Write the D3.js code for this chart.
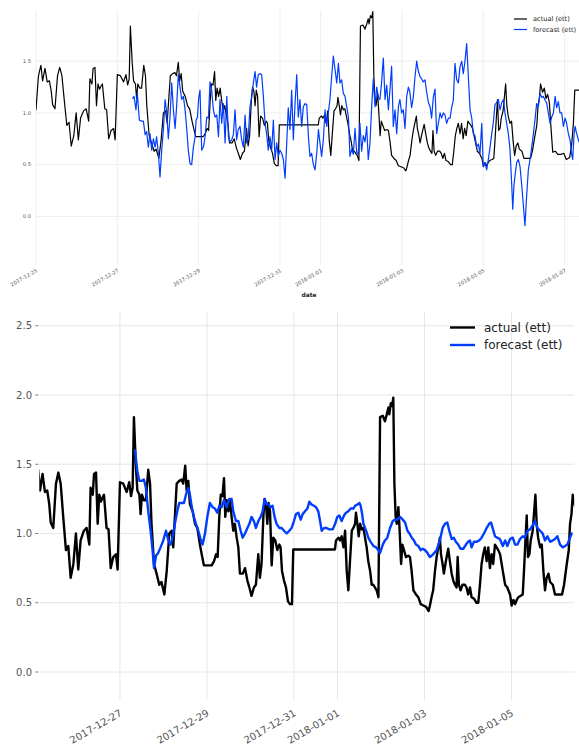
<!DOCTYPE html>
<html>
<head>
<meta charset="utf-8">
<script src="https://cdn.jsdelivr.net/npm/d3@7"></script>
<style>
  html, body { margin: 0; padding: 0; background: #fff; }
  svg { display: block; font-family: "DejaVu Sans", sans-serif; }
</style>
</head>
<body>
<svg id="chart" width="579" height="749"></svg>
<script>
// ---------- DATA (hours after 2017-12-25 00:00) ----------
const actualHours = [0,1.4,2.0,2.9,3.9,5.3,6.6,7.9,9.0,9.8,11.2,12.7,14.0,15.3,16.7,18.2,19.5,20.8,22.3,23.7,25.0,26.3,28.1,29.6,31.1,31.8,33.0,33.7,34.8,35.7,36.6,37.5,38.4,39.2,40.6,41.7,42.9,44.3,45.8,46.7,48.0,49.8,51.7,53.1,
54.1,55.0,55.7,56.8,57.6,58.7,59.4,60.1,61.2,62.3,63.6,64.6,65.4,66.8,68.2,69.7,70.9,72.5,73.8,75.2,76.5,77.4,78.3,79.3,80.7,82.0,82.9,84.0,84.8,85.7,86.6,88.1,89.4,90.7,92.1,93.1,94.3,95.4,96.7,98.6,99.9,101.0,101.9,102.8,103.6,104.5,105.4,106.1,106.9,107.8,
108.7,109.6,110.5,111.4,112.4,113.3,114.2,115.7,117.0,118.3,119.4,120.6,121.9,123.0,124.3,125.2,126.1,127.1,127.8,128.6,129.3,130.0,130.8,131.7,132.6,133.7,134.8,135.9,136.6,137.4,138.5,139.6,140.7,141.8,142.9,143.6,166.6,167.2,
168.5,169.4,170.3,171.3,172.2,173.1,174.0,174.9,175.9,176.8,177.7,178.2,179.0,179.7,180.5,181.4,182.3,183.2,184.1,185.0,186.0,186.9,187.8,188.7,189.6,190.6,191.5,193.0,194.2,195.2,196.1,196.6,197.4,198.1,198.8,199.4,200.1,200.7,201.6,202.3,203.1,203.8,204.7,205.8,207.1,208.0,208.9,209.9,211.3,212.6,213.9,215.4,216.9,218.3,
219.0,219.9,220.8,221.8,222.7,223.6,224.5,225.1,226.0,226.7,227.8,229.1,230.0,231.0,231.9,232.8,233.7,234.3,235.0,235.9,237.0,238.3,239.2,240.1,241.1,242.0,243.3,244.7,245.7,246.6,247.5,248.4,249.3,250.3,251.2,252.1,253.0,253.9,254.9,255.8,256.7,
257.7,259.2,260.5,261.7,263.2,264.1,265.1,266.0,266.9,267.8,269.1,270.2,270.9,271.7,272.4,273.1,273.9,274.6,275.7,276.5,277.2,277.9,278.7,279.8,280.7,281.6,282.5,283.4,284.4,285.3,286.8,288.0,289.3,290.8,291.9,293.0,294.5,295.6,296.3,297.1,297.8,
299.0,300.0,301.0,302.0,303.0,304.0,305.0,306.5,308.0,310.0,311.5,313.0,315.0,316.2,317.2,318.0,320.5];
const actualValues = [1.03,1.35,1.40,1.46,1.31,1.43,1.30,1.31,1.21,1.08,1.04,1.36,1.44,1.36,1.12,0.88,0.91,0.68,0.78,1.00,0.74,0.95,1.02,1.04,0.92,1.33,1.28,1.43,1.44,1.07,1.28,1.23,1.26,1.28,1.04,1.03,0.75,0.83,0.85,0.74,1.37,1.36,1.30,1.37,
1.27,1.33,1.84,1.48,1.31,1.28,1.14,1.28,1.24,1.24,1.46,1.36,1.07,0.78,0.71,0.63,0.65,0.56,0.73,1.00,1.02,0.90,1.12,1.36,1.38,1.39,1.36,1.49,1.31,1.38,1.21,1.16,1.07,1.04,0.92,0.85,0.77,0.77,0.77,0.77,0.80,0.85,0.83,1.12,1.28,1.27,1.40,1.12,1.24,1.16,
1.24,1.12,1.02,1.07,0.97,0.90,0.71,0.71,0.75,0.66,0.61,0.55,0.61,0.63,0.85,0.68,0.78,1.12,1.25,1.21,1.07,1.22,1.16,0.77,0.97,0.95,0.88,0.92,0.90,0.73,0.66,0.61,0.51,0.49,0.49,0.885,0.885,0.95,
0.97,0.95,0.98,0.90,1.02,0.73,0.59,0.80,1.02,1.04,1.07,1.15,1.07,0.98,1.07,1.03,1.04,0.97,0.90,0.80,0.73,0.63,0.63,0.61,0.59,0.54,1.84,1.85,1.81,1.86,1.91,1.86,1.94,1.92,1.98,1.36,1.12,1.07,1.19,1.02,0.78,0.92,0.88,0.83,0.84,0.83,0.73,0.59,0.56,0.54,0.49,0.48,0.47,0.44,
0.48,0.54,0.59,0.73,0.83,0.90,0.97,0.85,0.78,0.71,0.80,0.89,0.80,0.71,0.66,0.63,0.61,0.83,0.63,0.59,0.63,0.63,0.61,0.56,0.61,0.54,0.53,0.50,0.50,0.63,0.78,0.85,0.90,0.80,0.90,0.75,0.85,0.78,0.92,0.90,0.88,
0.85,0.73,0.63,0.61,0.56,0.48,0.52,0.49,0.52,0.54,0.55,0.56,0.73,0.95,1.13,0.83,0.85,0.95,1.02,1.16,1.28,1.07,0.97,0.90,0.92,0.73,0.59,0.68,0.71,0.65,0.63,0.56,0.56,0.56,0.56,0.63,0.78,0.88,1.07,1.14,1.28,
1.20,1.24,1.14,1.18,1.10,0.85,0.62,0.63,0.60,0.60,0.61,0.55,0.57,0.70,0.90,1.22,1.22];

const forecastTopHours = [57.1,57.9,59.0,59.8,61.0,62.4,63.4,64.4,65.3,66.3,67.3,68.3,69.3,70.3,71.2,72.2,73.2,74.2,75.2,76.2,77.2,78.1,79.1,80.1,81.1,82.1,83.1,84.0,85.0,86.0,87.0,88.0,89.0,89.9,90.9,91.9,92.9,93.9,94.5,95.3,96.0,96.8,97.8,98.8,99.8,100.8,101.8,102.7,103.7,104.7,105.7,106.7,107.7,108.6,109.6,110.6,111.6,112.6,113.6,114.5,
115.5,116.5,117.5,118.4,119.4,120.4,121.4,122.4,123.4,124.3,125.3,126.3,127.3,128.3,129.3,130.2,131.2,132.2,133.2,134.2,135.2,136.1,137.1,138.1,139.1,140.1,141.1,142.1,143.0,144.0,145.0,146.0,147.0,148.0,148.9,149.9,150.9,151.9,152.9,153.9,154.8,155.8,156.8,157.8,158.8,159.8,160.8,161.7,162.7,163.7,164.7,165.7,166.7,167.6,168.6,169.6,170.6,171.6,172.6,173.5,174.5,175.5,176.5,177.5,178.5,179.4,180.4,181.4,182.4,183.4,184.4,
185.3,186.3,187.3,188.3,189.3,190.2,191.2,192.2,193.2,194.2,195.2,196.1,197.1,198.1,199.1,200.1,201.1,202.1,203.0,204.0,205.0,206.0,207.0,208.0,208.9,209.9,210.9,211.9,212.9,213.9,214.8,215.8,216.8,217.8,218.8,219.8,220.7,221.7,222.7,223.7,224.7,225.7,226.7,227.6,228.6,229.6,230.6,231.6,232.6,233.5,234.5,235.5,236.5,237.5,238.5,239.4,240.4,241.4,242.4,243.4,244.4,245.3,246.3,247.3,248.3,249.3,250.3,251.3,252.2,253.2,254.2,255.2,256.2,257.2,258.1,259.1,260.1,261.1,262.1,263.1,264.0,265.0,266.0,267.0,268.0,269.0,269.9,270.9,271.9,272.9,273.9,274.9,275.9,276.8,277.8,278.8,279.8,280.8,281.4,282.1,282.7,283.7,284.7,285.7,286.7,287.7,288.6,289.6,290.6,291.6,292.6,293.6,294.5,295.5,296.5,297.5,298.5,299.5,300.5,301.4,302.4,303.4,304.4,305.4,306.4,307.3,308.3,309.3,310.3,311.3,312.3,313.2,314.2,315.2,316.2,316.8,317.6,318.2,319.1,320.5];
const forecastTopValues = [1.14,1.16,1.03,1.19,0.93,0.92,0.92,0.79,0.82,0.67,0.80,0.64,0.75,0.67,0.77,0.61,0.38,0.64,0.84,1.13,1.00,0.75,0.96,1.29,1.03,0.85,1.09,1.37,1.25,1.13,1.16,1.03,0.84,0.64,0.51,0.50,0.67,0.77,0.93,0.96,1.14,1.22,0.64,0.67,0.77,0.96,0.95,1.30,1.22,1.03,0.96,0.98,0.77,1.13,0.90,1.09,0.71,1.16,0.77,0.72,
0.74,0.79,1.03,0.74,0.84,0.87,0.74,0.67,0.98,0.71,0.77,1.06,1.16,1.29,1.40,1.25,1.37,1.38,1.37,1.16,0.90,0.80,0.64,0.77,0.64,0.93,0.55,0.71,0.58,0.64,0.61,0.55,0.37,0.71,1.05,0.84,1.22,0.74,1.09,1.37,0.96,1.13,0.87,1.06,1.09,1.08,0.77,0.58,0.61,0.50,0.45,0.61,0.84,0.71,0.58,0.74,1.03,0.87,1.01,1.13,1.35,1.55,1.42,1.29,1.48,1.29,1.32,1.19,1.16,1.06,0.96,
0.58,0.65,0.60,0.85,0.62,0.60,0.90,0.63,0.78,0.72,0.87,0.55,0.70,1.05,1.33,1.06,1.25,1.15,1.13,1.30,1.53,1.13,1.27,1.03,1.22,1.45,0.87,1.03,0.80,1.06,1.13,1.00,1.03,0.85,1.16,1.25,1.20,1.05,1.15,1.35,1.50,1.40,1.35,1.33,1.30,1.32,1.20,1.10,1.06,0.95,1.15,1.23,0.80,0.90,1.00,0.95,1.00,0.98,0.90,0.95,0.95,1.05,1.12,1.48,1.32,1.29,1.45,1.50,1.38,1.50,1.67,1.35,1.03,0.95,0.80,0.78,0.67,0.70,0.61,0.90,0.48,0.52,0.45,0.55,0.67,0.80,0.90,1.08,1.10,1.13,1.03,1.10,1.13,1.00,0.90,0.80,0.64,0.30,0.07,0.30,0.39,0.52,0.55,0.48,0.30,0.10,-0.09,0.20,0.45,0.55,0.67,0.80,0.93,1.09,1.06,1.19,1.15,1.16,1.12,1.10,1.00,0.90,0.96,1.00,1.16,1.05,1.11,1.00,1.00,0.87,0.95,0.90,0.80,0.74,0.60,0.55,0.80,0.87,0.80,0.72];

const forecastBottomHours = [56.3,57.6,58.7,60.0,61.2,62.3,63.6,64.9,66.0,66.8,67.9,69.1,70.4,71.9,73.4,74.7,75.9,77.0,78.3,79.6,80.7,82.0,83.3,84.4,85.7,86.6,87.5,88.8,89.9,91.2,92.5,93.6,94.9,96.2,97.6,99.1,100.4,101.7,102.8,104.1,105.4,106.9,108.3,
109.6,110.5,112.0,113.3,114.6,115.7,117.0,118.3,119.4,120.6,121.9,123.0,124.3,125.6,126.7,127.8,128.9,130.0,131.1,132.2,133.3,134.4,135.9,137.2,138.5,140.0,141.4,142.7,144.0,145.1,146.4,147.7,148.8,150.1,151.4,152.5,153.7,155.0,156.2,157.4,158.4,159.3,160.6,162.0,163.5,
165.4,166.7,167.9,169.0,170.3,171.6,172.7,174.0,175.3,176.8,177.7,179.0,180.1,180.8,181.6,182.3,183.8,185.0,186.3,187.8,189.3,190.6,191.5,193.0,194.2,195.5,197.0,198.5,199.8,201.0,202.5,204.0,205.3,206.6,207.7,209.0,210.2,211.3,212.6,213.9,215.0,216.3,217.6,
219.0,220.8,222.7,224.5,226.0,227.3,228.6,229.7,231.0,232.2,233.3,234.6,235.9,237.4,238.9,240.1,241.1,242.0,243.3,244.7,246.2,247.5,248.8,250.3,251.7,252.7,253.6,254.9,256.1,257.6,
259.2,260.5,261.7,263.2,264.7,266.0,267.3,268.7,270.2,271.5,272.8,274.3,275.7,277.0,278.3,279.8,281.2,282.5,283.8,285.3,286.8,288.0,289.3,290.8,292.3,293.6,294.8,296.0,297.2];
const forecastBottomValues = [1.60,1.45,1.38,1.38,1.39,1.33,1.16,1.02,0.88,0.75,0.84,0.86,0.90,0.95,1.02,0.95,0.92,0.97,1.07,1.16,1.22,1.22,1.22,1.28,1.33,1.28,1.20,1.12,1.07,1.02,0.96,0.92,1.00,1.12,1.22,1.19,1.18,1.15,1.20,1.19,1.24,1.19,1.25,
1.25,1.16,1.09,1.09,1.02,0.97,1.00,1.04,1.07,1.12,1.09,1.04,1.09,1.12,1.16,1.25,1.21,1.21,1.19,1.20,1.12,1.07,1.04,1.04,1.02,1.00,1.02,1.04,1.09,1.14,1.15,1.10,1.14,1.16,1.18,1.23,1.21,1.20,1.19,1.16,1.09,1.02,1.04,1.04,1.03,
1.03,1.07,1.12,1.13,1.09,1.13,1.15,1.16,1.18,1.18,1.20,1.21,1.22,1.20,1.14,1.07,1.02,0.97,0.94,0.91,0.90,0.88,0.86,0.92,0.95,0.97,1.04,1.09,1.10,1.10,1.12,1.10,1.08,1.02,1.00,0.97,0.95,0.92,0.91,0.88,0.89,0.88,0.86,
0.83,0.85,0.88,0.95,1.04,1.07,1.08,1.02,0.96,0.97,0.94,0.92,0.89,0.89,0.92,0.94,0.95,0.90,0.94,0.94,0.95,0.97,1.00,1.04,1.07,1.08,1.04,0.98,0.97,0.96,
0.91,0.95,0.91,0.96,0.97,0.92,0.92,0.96,0.98,0.97,1.02,1.03,1.06,1.09,1.04,1.02,1.00,0.95,0.98,0.94,0.95,0.96,0.98,0.92,0.90,0.91,0.92,0.96,1.00];

const topTickLabels = ["2017-12-25","2017-12-27","2017-12-29","2017-12-31","2018-01-01","2018-01-03","2018-01-05","2018-01-07"];
const bottomTickLabels = ["2017-12-27","2017-12-29","2017-12-31","2018-01-01","2018-01-03","2018-01-05"];
const topYTicks = [0, 0.5, 1.0, 1.5];
const bottomYTicks = [0, 0.5, 1.0, 1.5, 2.0, 2.5];
const seriesNames = ["actual (ett)", "forecast (ett)"];
const seriesColors = ["#000000", "#003DFD"];

// ---------- helpers ----------
const BASE = Date.UTC(2017, 11, 25);
const toDate = h => new Date(BASE + h * 3600000);
const parseDay = s => { const [y, m, d] = s.split("-").map(Number); return new Date(Date.UTC(y, m - 1, d)); };
const zip = (hs, vs) => hs.map((h, i) => ({ t: toDate(h), v: vs[i] }));

const actual = zip(actualHours, actualValues);
const fcTop = zip(forecastTopHours, forecastTopValues);
const fcBot = zip(forecastBottomHours, forecastBottomValues);

const svg = d3.select("#chart");
const GRID = "#e6e6e6";
const TICKC = "#555";

function panel(cfg) {
  const g = svg.append("g");
  const x = d3.scaleUtc().domain([toDate(cfg.xDomain[0]), toDate(cfg.xDomain[1])]).range([cfg.left, cfg.right]);
  const y = d3.scaleLinear().domain(cfg.yDomain).range([cfg.bottom, cfg.top]);
  const clipId = "clip" + cfg.id;
  svg.append("clipPath").attr("id", clipId).append("rect")
    .attr("x", cfg.left).attr("y", cfg.top).attr("width", cfg.right - cfg.left).attr("height", cfg.bottom - cfg.top);

  const xt = cfg.xTicks.map(parseDay);
  // grid
  g.append("g").selectAll("line").data(xt).join("line")
    .attr("x1", d => x(d)).attr("x2", d => x(d)).attr("y1", cfg.top).attr("y2", cfg.bottom)
    .attr("stroke", GRID).attr("stroke-width", cfg.gridW);
  g.append("g").selectAll("line").data(cfg.yTicks).join("line")
    .attr("x1", cfg.left).attr("x2", cfg.right).attr("y1", d => y(d)).attr("y2", d => y(d))
    .attr("stroke", GRID).attr("stroke-width", cfg.gridW);

  // y tick labels
  const yl = g.append("g");
  yl.selectAll("text").data(cfg.yTicks).join("text")
    .attr("x", cfg.yLabelX).attr("y", d => y(d)).attr("dy", "0.35em")
    .attr("text-anchor", "end").attr("font-size", cfg.tickFont).attr("fill", TICKC)
    .text(d => d3.format(".1f")(d));
  if (cfg.yTickMark) {
    yl.selectAll("line").data(cfg.yTicks).join("line")
      .attr("x1", cfg.left - 4).attr("x2", cfg.left - 1).attr("y1", d => y(d)).attr("y2", d => y(d))
      .attr("stroke", TICKC).attr("stroke-width", 0.8);
  }
  // x tick labels
  g.append("g").selectAll("text").data(xt).join("text")
    .attr("transform", d => `translate(${x(d) + cfg.xLabelDx},${cfg.xLabelY}) rotate(-30)`)
    .attr("text-anchor", "end").attr("font-size", cfg.tickFont).attr("fill", TICKC)
    .attr("dy", "0.35em")
    .text(d => d3.utcFormat("%Y-%m-%d")(d));

  // lines
  const line = d3.line().x(d => x(d.t)).y(d => y(d.v)).curve(d3.curveLinear);
  const lg = g.append("g").attr("clip-path", `url(#${clipId})`);
  cfg.series.forEach((s, i) => {
    lg.append("path").datum(s).attr("d", line).attr("fill", "none")
      .attr("stroke", seriesColors[i]).attr("stroke-width", cfg.lineW)
      .attr("stroke-linejoin", "round").attr("stroke-linecap", "round");
  });

  // legend
  const leg = g.append("g");
  seriesNames.forEach((n, i) => {
    const ly = cfg.legY + i * cfg.legDy;
    leg.append("line").attr("x1", cfg.legX).attr("x2", cfg.legX + cfg.legLen).attr("y1", ly).attr("y2", ly)
      .attr("stroke", seriesColors[i]).attr("stroke-width", cfg.lineW);
    leg.append("text").attr("x", cfg.legX + cfg.legLen + cfg.legGap).attr("y", ly).attr("dy", "0.35em")
      .attr("font-size", cfg.legFont).attr("fill", "#222").text(n);
  });
  return { x, y, g };
}

// ---------- top panel ----------
const topP = panel({
  id: "top", xDomain: [0, 320.5], yDomain: [-0.47, 1.995],
  left: 36, right: 579, top: 10, bottom: 265,
  xTicks: topTickLabels, yTicks: topYTicks,
  gridW: 0.7, tickFont: 5.2, yLabelX: 31, yTickMark: false,
  xLabelY: 270, xLabelDx: 1,
  series: [actual, fcTop], lineW: 1.2,
  legX: 514, legY: 19, legDy: 10.5, legLen: 13, legGap: 6, legFont: 6.6
});
topP.g.append("text").attr("x", 309).attr("y", 297).attr("text-anchor", "middle")
  .attr("font-size", 5.9).attr("font-weight", "bold").attr("fill", "#222").text("date");

// ---------- bottom panel ----------
panel({
  id: "bot", xDomain: [3.5, 298.6], yDomain: [-0.2, 2.6],
  left: 39.3, right: 574.2, top: 311.9, bottom: 699.7,
  xTicks: bottomTickLabels, yTicks: bottomYTicks,
  gridW: 1, tickFont: 10, yLabelX: 32, yTickMark: true,
  xLabelY: 712, xLabelDx: 1,
  series: [actual, fcBot], lineW: 2.4,
  legX: 450, legY: 327.5, legDy: 17.5, legLen: 25, legGap: 9, legFont: 12
});
</script>
</body>
</html>
